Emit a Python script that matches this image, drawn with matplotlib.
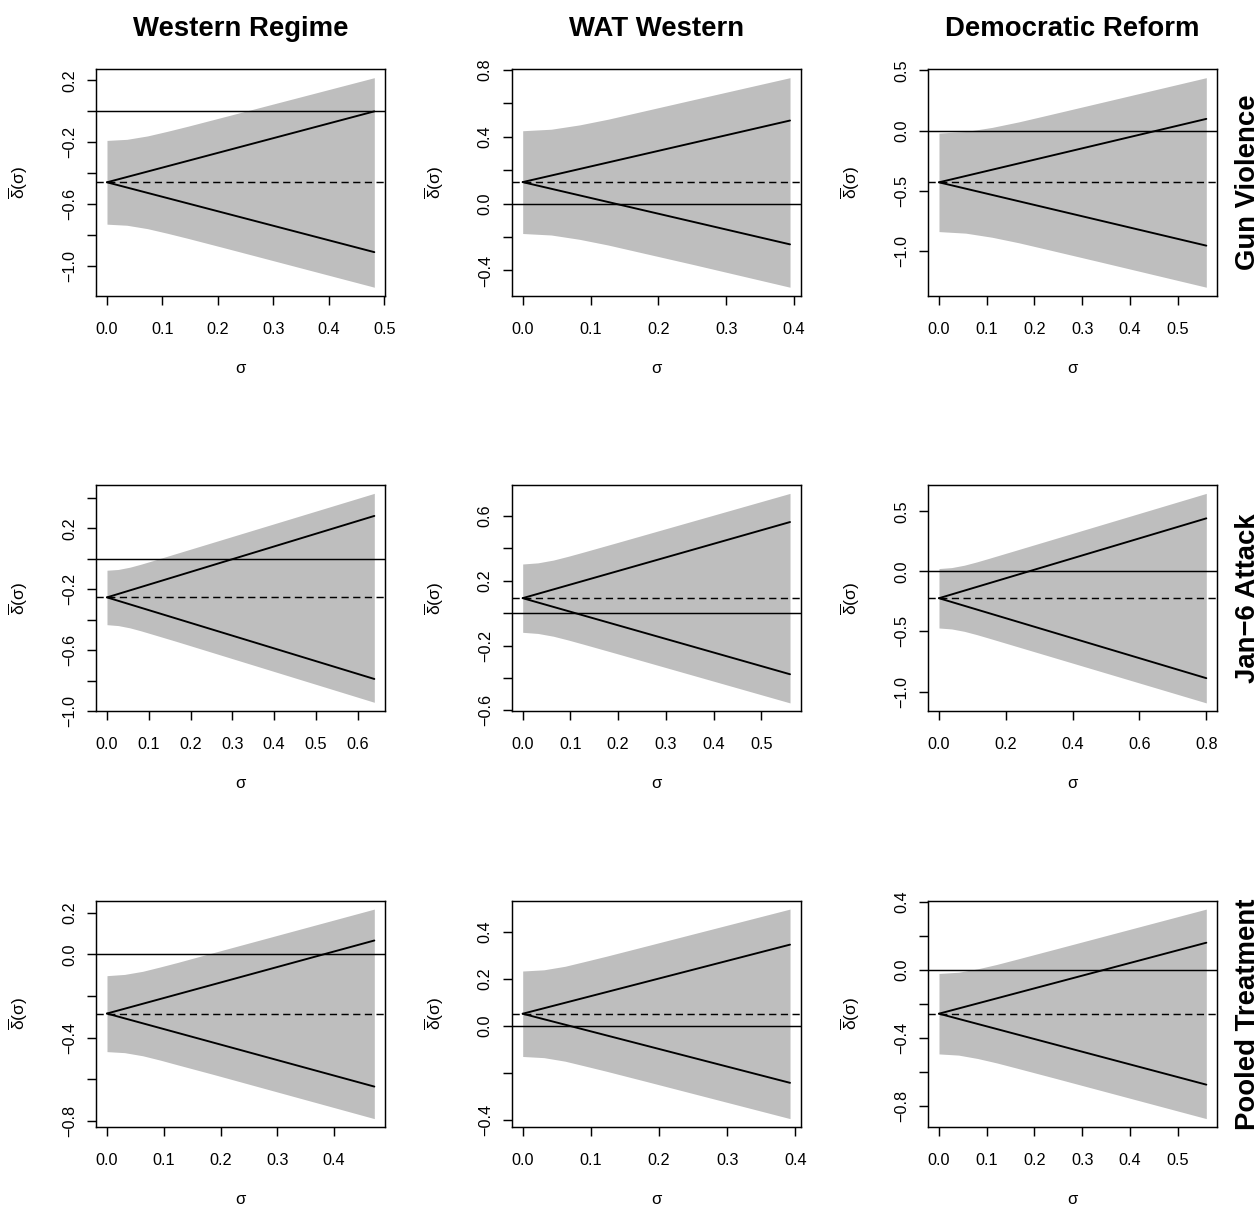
import matplotlib
matplotlib.use("Agg")
import matplotlib.pyplot as plt
import numpy as np

plt.rcParams['font.family'] = ['Liberation Sans', 'DejaVu Sans']
plt.rcParams['mathtext.fontset'] = 'custom'
plt.rcParams['mathtext.rm'] = 'Liberation Sans'
plt.rcParams['mathtext.it'] = 'Liberation Sans'
plt.rcParams['mathtext.bf'] = 'Liberation Sans:bold'
plt.rcParams['lines.scale_dashes'] = False

# ---------------- data ----------------
col_titles = ["Western Regime", "WAT Western", "Democratic Reform"]
row_titles = ["Gun Violence", "Jan\u22126 Attack", "Pooled Treatment"]

sigma_max = [[0.482, 0.394, 0.560],
             [0.640, 0.560, 0.800],
             [0.471, 0.392, 0.560]]
center = [[-0.459, 0.128, -0.431],
          [-0.253, 0.093, -0.223],
          [-0.284, 0.0525, -0.258]]
line_upper_end = [[0.000, 0.496, 0.097],
                  [0.281, 0.563, 0.442],
                  [0.067, 0.346, 0.160]]
line_lower_end = [[-0.911, -0.244, -0.958],
                  [-0.788, -0.377, -0.889],
                  [-0.635, -0.241, -0.676]]

band_x = [
    [[0, 0.036, 0.073, 0.109, 0.146, 0.219, 0.482],
     [0, 0.042, 0.084, 0.126, 0.168, 0.251, 0.394],
     [0, 0.056, 0.111, 0.167, 0.222, 0.333, 0.560]],
    [[0, 0.027, 0.055, 0.082, 0.109, 0.164, 0.640],
     [0, 0.032, 0.064, 0.096, 0.128, 0.193, 0.560],
     [0, 0.038, 0.076, 0.114, 0.152, 0.228, 0.800]],
    [[0, 0.031, 0.063, 0.094, 0.125, 0.188, 0.471],
     [0, 0.031, 0.062, 0.092, 0.123, 0.185, 0.392],
     [0, 0.041, 0.081, 0.121, 0.162, 0.243, 0.560]],
]
band_upper = [
    [[-0.188, -0.181, -0.159, -0.129, -0.096, -0.028, 0.218],
     [0.435, 0.444, 0.470, 0.504, 0.543, 0.620, 0.752],
     [-0.021, -0.008, 0.026, 0.072, 0.123, 0.227, 0.440]],
    [[-0.075, -0.070, -0.055, -0.035, -0.013, 0.033, 0.429],
     [0.304, 0.311, 0.328, 0.352, 0.378, 0.432, 0.740],
     [0.024, 0.032, 0.052, 0.080, 0.111, 0.174, 0.650]],
    [[-0.102, -0.096, -0.081, -0.060, -0.038, 0.009, 0.218],
     [0.234, 0.239, 0.254, 0.275, 0.297, 0.343, 0.497],
     [-0.021, -0.014, 0.006, 0.032, 0.062, 0.122, 0.358]],
]
band_lower = [
    [[-0.730, -0.737, -0.759, -0.789, -0.822, -0.890, -1.138],
     [-0.179, -0.188, -0.214, -0.248, -0.287, -0.364, -0.500],
     [-0.841, -0.854, -0.888, -0.934, -0.985, -1.089, -1.304]],
    [[-0.432, -0.438, -0.453, -0.473, -0.495, -0.540, -0.941],
     [-0.118, -0.125, -0.142, -0.166, -0.192, -0.246, -0.554],
     [-0.471, -0.479, -0.499, -0.527, -0.558, -0.621, -1.095]],
    [[-0.467, -0.472, -0.487, -0.508, -0.531, -0.577, -0.789],
     [-0.129, -0.134, -0.149, -0.170, -0.192, -0.238, -0.393],
     [-0.495, -0.502, -0.522, -0.548, -0.578, -0.638, -0.876]],
]

x_ticks = [[[0, 0.1, 0.2, 0.3, 0.4, 0.5], [0, 0.1, 0.2, 0.3, 0.4], [0, 0.1, 0.2, 0.3, 0.4, 0.5]],
           [[0, 0.1, 0.2, 0.3, 0.4, 0.5, 0.6], [0, 0.1, 0.2, 0.3, 0.4, 0.5], [0, 0.2, 0.4, 0.6, 0.8]],
           [[0, 0.1, 0.2, 0.3, 0.4], [0, 0.1, 0.2, 0.3, 0.4], [0, 0.1, 0.2, 0.3, 0.4, 0.5]]]
y_ticks = [[[-1.0, -0.8, -0.6, -0.4, -0.2, 0.0, 0.2], [-0.4, -0.2, 0.0, 0.2, 0.4, 0.6, 0.8], [-1.0, -0.5, 0.0, 0.5]],
           [[-1.0, -0.8, -0.6, -0.4, -0.2, 0.0, 0.2, 0.4], [-0.6, -0.4, -0.2, 0.0, 0.2, 0.4, 0.6], [-1.0, -0.5, 0.0, 0.5]],
           [[-0.8, -0.6, -0.4, -0.2, 0.0, 0.2], [-0.4, -0.2, 0.0, 0.2, 0.4], [-0.8, -0.6, -0.4, -0.2, 0.0, 0.2, 0.4]]]
y_labeled = [[[-1.0, -0.6, -0.2, 0.2], [-0.4, 0.0, 0.4, 0.8], [-1.0, -0.5, 0.0, 0.5]],
             [[-1.0, -0.6, -0.2, 0.2], [-0.6, -0.2, 0.2, 0.6], [-1.0, -0.5, 0.0, 0.5]],
             [[-0.8, -0.4, 0.0, 0.2], [-0.4, 0.0, 0.2, 0.4], [-0.8, -0.4, 0.0, 0.4]]]

x_label = "σ"
y_label = r"$\overline{\delta}(\sigma)$"

# ---------------- layout ----------------
W, H = 1260, 1209
DPI = 100
PX = 72.0 / DPI
fig = plt.figure(figsize=(W / DPI, H / DPI), dpi=DPI)

col_left = [96.3, 512.0, 928.3]
row_top = [69.3, 485.0, 900.7]
box_w, box_h = 288.7, 226.3
LW = 1.05
BAND = '#BEBEBE'


def fmt(v):
    s = f"{v:.1f}"
    return s.replace('-', '\u2212')


for i in range(3):
    for j in range(3):
        ax = fig.add_axes([col_left[j] / W, 1 - (row_top[i] + box_h) / H, box_w / W, box_h / H])
        smax = sigma_max[i][j]
        c = center[i][j]
        bx, bu, bl = band_x[i][j], band_upper[i][j], band_lower[i][j]
        ax.fill_between(bx, bl, bu, color=BAND, lw=0, zorder=1)
        ax.axhline(0, color='black', lw=LW, zorder=3)
        ax.axhline(c, color='black', lw=LW, dashes=(5.2, 3.2), zorder=3)
        ax.plot([0, smax], [c, line_upper_end[i][j]], color='black', lw=LW * 1.3, zorder=3,
                solid_capstyle='round')
        ax.plot([0, smax], [c, line_lower_end[i][j]], color='black', lw=LW * 1.3, zorder=3,
                solid_capstyle='round')

        ax.set_xlim(-0.04 * smax, 1.04 * smax)
        y0, y1 = min(bl), max(bu)
        r = y1 - y0
        ax.set_ylim(y0 - 0.04 * r, y1 + 0.04 * r)

        xt = x_ticks[i][j]
        ax.set_xticks(xt)
        ax.set_xticklabels([fmt(v) for v in xt])
        yt = y_ticks[i][j]
        ax.set_yticks(yt)
        ax.set_yticklabels([fmt(v) if any(abs(v - u) < 1e-9 for u in y_labeled[i][j]) else ''
                            for v in yt])

        for sp in ax.spines.values():
            sp.set_linewidth(LW)
        ax.tick_params(direction='out', length=9 * PX, width=LW, labelsize=11.7, color='black')
        ax.tick_params(axis='x', pad=17 * PX)
        ax.tick_params(axis='y', pad=10.2 * PX)
        for lab in ax.get_yticklabels():
            lab.set_rotation(90)
            lab.set_va('center')

        ax.annotate(x_label, xy=(0.5, 0), xycoords='axes fraction',
                    xytext=(0, -72.5 * PX), textcoords='offset points',
                    ha='center', va='center', fontsize=12)
        ax.annotate(y_label, xy=(0, 0.5), xycoords='axes fraction',
                    xytext=(-78 * PX, 0), textcoords='offset points',
                    ha='center', va='center', rotation=90, fontsize=12.5)

for j in range(3):
    fig.text((col_left[j] + box_w / 2) / W, 1 - 35.7 / H, col_titles[j],
             ha='center', va='baseline', fontsize=19.8, fontweight='bold')
for i in range(3):
    fig.text(1248 / W, 1 - (row_top[i] + box_h / 2) / H, row_titles[i],
             ha='center', va='center', rotation=90, fontsize=19.8, fontweight='bold')

fig.savefig('out.png', dpi=DPI)
